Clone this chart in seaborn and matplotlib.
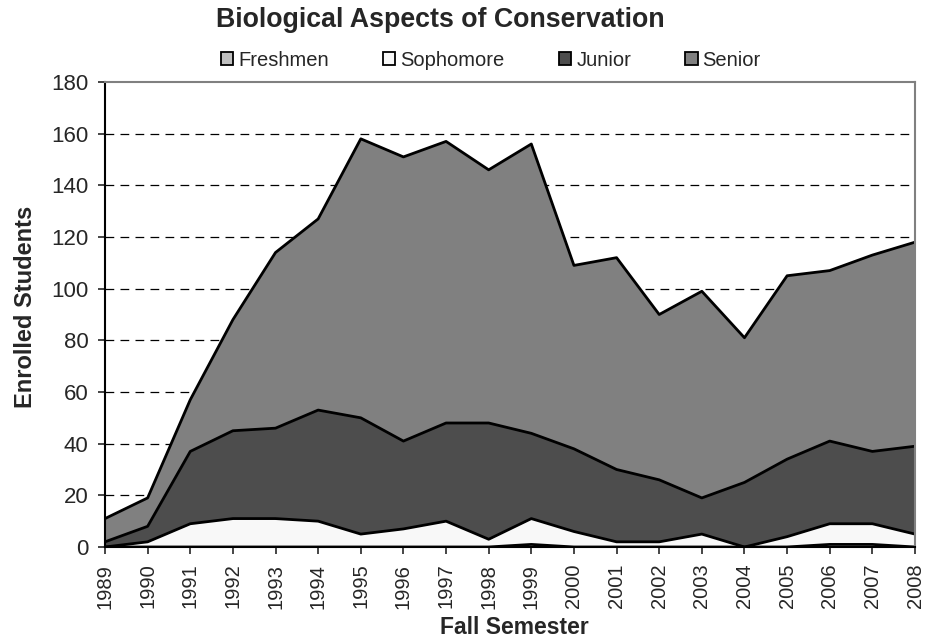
import numpy as np
import pandas as pd
import matplotlib
matplotlib.use("Agg")
import matplotlib.pyplot as plt
from matplotlib.patches import Patch
import seaborn as sns

years = list(range(1989, 2009))
freshmen = [0, 0, 0, 0, 0, 0, 0, 0, 0, 0, 1, 0, 0, 0, 0, 0, 0, 1, 1, 0]
sophomore = [0, 2, 9, 11, 11, 10, 5, 7, 10, 3, 10, 6, 2, 2, 5, 0, 4, 8, 8, 5]
junior = [2, 6, 28, 34, 35, 43, 45, 34, 38, 45, 33, 32, 28, 24, 14, 25, 30, 32, 28, 34]
senior = [9, 11, 20, 43, 68, 74, 108, 110, 109, 98, 112, 71, 82, 64, 80, 56, 71, 66, 76, 79]

names = ["Freshmen", "Sophomore", "Junior", "Senior"]
colors = ["#c0c0c0", "#f8f8f8", "#4d4d4d", "#808080"]

df = pd.DataFrame({"Year": years, "Freshmen": freshmen, "Sophomore": sophomore,
                   "Junior": junior, "Senior": senior})
cum = df[names].cumsum(axis=1)

sns.set_style("white")
plt.rcParams["font.family"] = ["Liberation Sans", "DejaVu Sans"]

fig = plt.figure(figsize=(9.4, 6.39), dpi=100)
ax = fig.add_axes([105 / 940, 1 - 547 / 639, 810 / 940, 465 / 639])

# dashed grid behind areas
for yv in range(20, 180, 20):
    ax.axhline(yv, color="black", lw=0.9, ls=(0, (7, 5)), zorder=0)

prev = np.zeros(len(years))
for name, col in zip(names, colors):
    top = cum[name].values
    ax.fill_between(df["Year"], prev, top, color=col, lw=0, zorder=1)
    prev = top

for name in names:
    sns.lineplot(x=df["Year"], y=cum[name], color="black", lw=2, ax=ax, zorder=2)

ax.set_xlim(1989, 2008)
ax.set_ylim(0, 180)
ax.set_yticks(range(0, 181, 20))
ax.set_xticks(years)
ax.set_xticklabels([str(y) for y in years], rotation=90, fontsize=14.5)
ax.tick_params(axis="y", labelsize=16, length=5, width=1.2, direction="out", left=True, pad=7)
ax.tick_params(axis="x", length=5, width=1.2, direction="out", bottom=True, pad=7)

for side in ["left", "bottom"]:
    ax.spines[side].set_color("black")
    ax.spines[side].set_linewidth(1.5)
for side in ["top", "right"]:
    ax.spines[side].set_color("#808080")
    ax.spines[side].set_linewidth(1.5)

ax.set_xlabel("")
ax.set_ylabel("")
fig.text(514 / 940, 1 - 627 / 639, "Fall Semester", ha="center", va="center",
         fontsize=16.5, fontweight="bold")
fig.text(26 / 940, 1 - 307 / 639, "Enrolled Students", ha="center", va="center",
         rotation=90, fontsize=17, fontweight="bold")

fig.text(440 / 940, 1 - 20 / 639, "Biological Aspects of Conservation",
         ha="center", va="center", fontsize=19.3, fontweight="bold")

handles = [Patch(facecolor=c, edgecolor="black", lw=1.3, label=n) for n, c in zip(names, colors)]
fig.legend(handles=handles, loc="center", bbox_to_anchor=(491 / 940, 1 - 60 / 639), ncol=4,
           frameon=False, fontsize=14.5, handlelength=0.6, handleheight=0.6,
           handletextpad=0.25, columnspacing=2.7, borderaxespad=0, borderpad=0)

fig.savefig("out.png", dpi=100)
